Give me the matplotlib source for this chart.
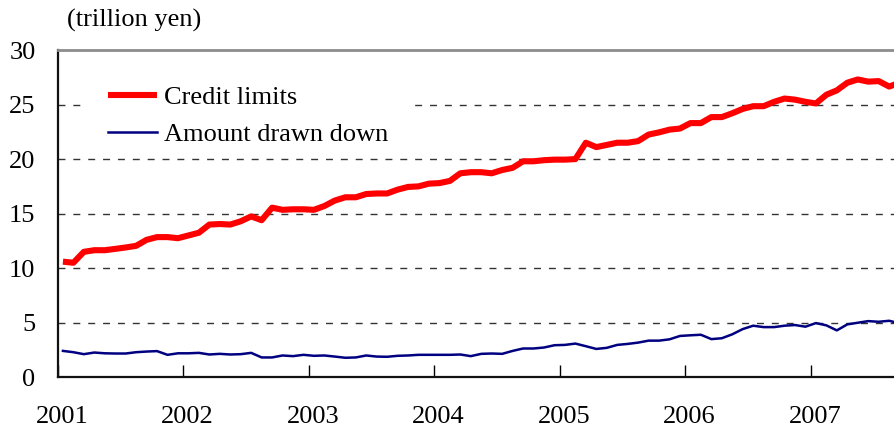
import matplotlib
matplotlib.use("Agg")
import matplotlib.pyplot as plt
import matplotlib.transforms as mtransforms
from matplotlib.patches import Rectangle
import numpy as np

# Monthly data, Jan 2001 - Sep 2007 (trillion yen)
start_year = 2001
credit_limits = [10.6, 10.5, 11.5, 11.65, 11.65, 11.77, 11.9, 12.05, 12.6, 12.85, 12.85, 12.75,
                 13.0, 13.25, 14.0, 14.05, 14.0, 14.3, 14.75, 14.4, 15.55, 15.35, 15.4, 15.4,
                 15.35, 15.7, 16.2, 16.5, 16.5, 16.8, 16.85, 16.85, 17.2, 17.45, 17.5, 17.75,
                 17.8, 18.0, 18.7, 18.8, 18.8, 18.7, 19.0, 19.2, 19.8, 19.8, 19.9, 19.95,
                 19.95, 20.0, 21.5, 21.1, 21.3, 21.5, 21.5, 21.65, 22.25, 22.45, 22.7, 22.8,
                 23.3, 23.3, 23.85, 23.85, 24.2, 24.6, 24.85, 24.85, 25.25, 25.55, 25.45, 25.25,
                 25.1, 25.9, 26.3, 27.0, 27.3, 27.1, 27.15, 26.65, 27.0]
amount_drawn = [2.42, 2.3, 2.12, 2.27, 2.2, 2.18, 2.18, 2.3, 2.36, 2.4, 2.06, 2.2,
                2.2, 2.24, 2.09, 2.15, 2.09, 2.12, 2.24, 1.82, 1.82, 2.0, 1.94, 2.06,
                1.97, 2.0, 1.9, 1.79, 1.82, 2.0, 1.9, 1.88, 1.97, 2.0, 2.06, 2.06,
                2.06, 2.06, 2.09, 1.94, 2.15, 2.18, 2.15, 2.42, 2.64, 2.64, 2.73, 2.94,
                2.97, 3.09, 2.85, 2.6, 2.7, 2.97, 3.06, 3.18, 3.36, 3.36, 3.48, 3.79,
                3.85, 3.9, 3.5, 3.58, 3.94, 4.42, 4.73, 4.6, 4.6, 4.73, 4.79, 4.64,
                4.97, 4.76, 4.3, 4.85, 5.0, 5.15, 5.09, 5.18, 4.95]
year_ticks = [2001, 2002, 2003, 2004, 2005, 2006, 2007]
y_ticks = [0, 5, 10, 15, 20, 25, 30]
series_labels = ["Credit limits", "Amount drawn down"]
unit_label = "(trillion yen)"

x = start_year + (np.arange(len(credit_limits)) + 0.5) / 12.0

plt.rcParams['font.family'] = ['Liberation Serif', 'DejaVu Serif']
FS = 19

W, H = 894, 432
fig = plt.figure(figsize=(W / 100, H / 100), dpi=100)
left_px, top_px, bot_px = 57.7, 50.0, 377.3
ax = fig.add_axes([left_px / W, 1 - bot_px / H, 1 - left_px / W, (bot_px - top_px) / H])

l1, = ax.plot(x, credit_limits, color='#ff0000', lw=4.4, solid_joinstyle='round',
              solid_capstyle='butt', zorder=4)
l2, = ax.plot(x, amount_drawn, color='#000080', lw=1.8, zorder=4)

ax.set_xlim(2001, 2001 + (W - left_px) / 125.5)
ax.set_ylim(0, 30)
ax.set_xticks(year_ticks)
ax.set_xticklabels([str(y) for y in year_ticks])
ax.set_yticks(y_ticks)

for v in y_ticks[1:-1]:
    ax.axhline(v, color='#333333', lw=1.0, dashes=(5, 5.7), zorder=1)

# white area behind the legend (hides the gridline there)
ax.add_patch(Rectangle((82 / W, 1 - 118 / H), (412 - 82) / W, 30 / H,
                       transform=fig.transFigure, facecolor='white',
                       edgecolor='none', zorder=2))

ax.tick_params(axis='x', direction='in', length=9, width=1.0, pad=21,
               labelsize=FS, colors='black')
ax.tick_params(axis='y', direction='in', length=0, pad=16, labelsize=FS)

offset = mtransforms.ScaledTranslation(3 / 72, 0, fig.dpi_scale_trans)
for lab in ax.get_xticklabels():
    lab.set_transform(lab.get_transform() + offset)

for s in ['left', 'bottom']:
    ax.spines[s].set_linewidth(1.6)
    ax.spines[s].set_color('#111111')
ax.spines['top'].set_color('#8c8c8c')
ax.spines['top'].set_linewidth(2.0)
ax.spines['right'].set_visible(False)

fig.text(67 / W, 1 - 20 / H, unit_label, fontsize=FS, ha='left', va='center')

leg = ax.legend([l1, l2], series_labels, loc='upper left',
                bbox_to_anchor=(108 / W, 1 - 86 / H), bbox_transform=fig.transFigure,
                fontsize=FS, frameon=False, handlelength=1.85,
                handletextpad=0.27, labelspacing=0.5, borderpad=0.0,
                borderaxespad=0)
leg.set_zorder(5)

fig.savefig("out.png", dpi=100)
